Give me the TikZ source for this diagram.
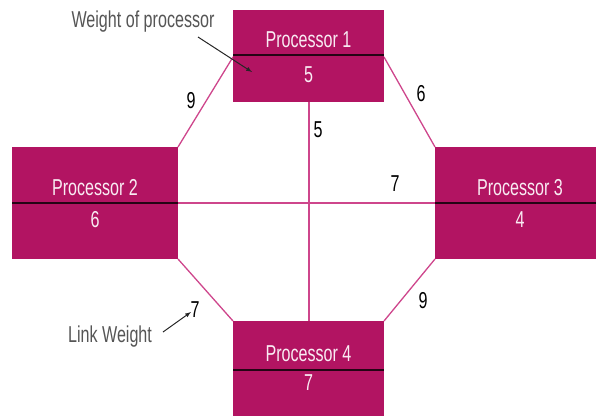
\documentclass[tikz,border=0pt]{standalone}
\usepackage{fontspec}
\setmainfont{Liberation Sans}[FakeStretch=0.7]
\definecolor{procfill}{RGB}{178,20,98}
\definecolor{linkcol}{RGB}{206,70,140}
\definecolor{txtgrey}{RGB}{85,85,85}
\begin{document}
\begin{tikzpicture}[x=1pt,y=-1pt,
  procbox/.style={fill=procfill,draw=none},
  divider/.style={draw=black!80!procfill,line width=1.3pt},
  link/.style={draw=linkcol,line width=1.3pt},
  ptext/.style={text=white!92!procfill,font=\fontsize{23}{25}\selectfont,inner sep=0pt},
  wtext/.style={text=black,font=\fontsize{23}{25}\selectfont,inner sep=0pt},
  note/.style={text=txtgrey,font=\fontsize{23}{25}\selectfont,inner sep=0pt},
  pointer/.style={draw=black!85,line width=1pt,-latex}]
\useasboundingbox (0,0) rectangle (596,416);
% links
\coordinate (p1l) at (233,57);
\coordinate (p1r) at (384,57);
\coordinate (p2tr) at (178,147);
\coordinate (p3tl) at (435,147);
\coordinate (p2br) at (178,259);
\coordinate (p3bl) at (435,259);
\coordinate (p4tl) at (233,321);
\coordinate (p4tr) at (384,321);
\coordinate (p1b) at (309,102);
\coordinate (p4t) at (309,321);
\coordinate (p2m) at (178,203);
\coordinate (p3m) at (435,203);
\draw[link] (p1l) -- (p2tr);
\draw[link] (p1r) -- (p3tl);
\draw[link] (p2br) -- (p4tl);
\draw[link] (p3bl) -- (p4tr);
\draw[link] (p1b) -- (p4t);
\draw[link] (p2m) -- (p3m);
% processors
\fill[procbox] (233,10) rectangle (384,102);
\draw[divider] (233,55) -- (384,55);
\node[ptext] (n1) at (308.5,40) {Processor 1};
\node[ptext] (w1) at (308.5,75) {5};
\fill[procbox] (12,147) rectangle (178,259);
\draw[divider] (12,203) -- (178,203);
\node[ptext] (n2) at (95,188) {Processor 2};
\node[ptext] (w2) at (95,220) {6};
\fill[procbox] (435,147) rectangle (596,259);
\draw[divider] (435,203) -- (596,203);
\node[ptext] (n3) at (520,188) {Processor 3};
\node[ptext] (w3) at (520,220) {4};
\fill[procbox] (233,321) rectangle (384,416);
\draw[divider] (233,370) -- (384,370);
\node[ptext] (n4) at (308.5,354) {Processor 4};
\node[ptext] (w4) at (308.5,383) {7};
% link weights
\node[wtext] (l12) at (191,101) {9};
\node[wtext] (l13) at (421,94) {6};
\node[wtext] (l14) at (318,130) {5};
\node[wtext] (l23) at (395,184) {7};
\node[wtext] (l34) at (423,301) {9};
\node[wtext] (l24) at (195,310) {7};
% annotations
\node[note] (wp) at (143,22) {Weight of processor};
\coordinate (wpa) at (198,37);
\coordinate (wpb) at (252,72);
\draw[pointer] (wpa) -- (wpb);
\node[note] (lw) at (110,337) {Link Weight};
\coordinate (lwa) at (163,332);
\coordinate (lwb) at (191,312);
\draw[pointer] (lwa) -- (lwb);
\end{tikzpicture}
\end{document}
